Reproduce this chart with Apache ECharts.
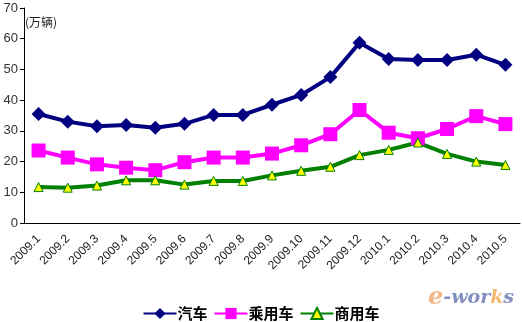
<!DOCTYPE html>
<html><head><meta charset="utf-8">
<script src="https://cdn.jsdelivr.net/npm/echarts@6/dist/echarts.min.js"></script>
<style>html,body{margin:0;padding:0;background:#fff}#c{width:522px;height:322px}</style>
</head><body><div id="c"></div>
<script>
const categories = ['2009.1','2009.2','2009.3','2009.4','2009.5','2009.6','2009.7','2009.8','2009.9','2009.10','2009.11','2009.12','2010.1','2010.2','2010.3','2010.4','2010.5'];
const autoValues = [35.5,33.0,31.5,31.9,31.0,32.3,35.2,35.2,38.5,41.7,47.5,58.7,53.4,53.1,53.1,54.8,51.5];
const passengerValues = [23.6,21.3,19.1,18.0,17.2,19.8,21.3,21.3,22.6,25.3,28.9,36.8,29.4,27.6,30.6,34.8,32.2];
const commercialValues = [11.7,11.5,12.2,13.9,13.9,12.5,13.7,13.7,15.5,17.0,18.3,22.1,23.8,26.2,22.5,20.0,18.9];
const seriesNames = ['汽车','乘用车','商用车'];
const yTicks = {min:0, max:70, interval:10};

const chart = echarts.init(document.getElementById('c'), null, {renderer:'canvas'});
chart.setOption({
  animation:false,
  backgroundColor:'#fff',
  grid:{left:24, right:2, top:8, bottom:99, containLabel:false},
  legend:{
    bottom:1, left:'center', itemGap:6, itemWidth:33, itemHeight:14, padding:0,
    textStyle:{fontSize:15, fontWeight:'bold', color:'#000', padding:[0,0,0,-4], fontFamily:'"Noto Sans CJK SC", sans-serif'},
    data:seriesNames
  },
  xAxis:{
    type:'category', data:categories, boundaryGap:true,
    axisLine:{lineStyle:{color:'#000', width:1}},
    axisTick:{inside:true, length:4, lineStyle:{color:'#000'}},
    axisLabel:{rotate:45, fontSize:12, color:'#222', margin:14, interval:0, fontFamily:'"Liberation Sans", Arial, sans-serif'},
    splitLine:{show:false}
  },
  yAxis:{
    type:'value', min:yTicks.min, max:yTicks.max, interval:yTicks.interval,
    axisLine:{show:true, lineStyle:{color:'#000', width:1}},
    axisTick:{show:true, length:4, lineStyle:{color:'#000'}},
    axisLabel:{fontSize:13, color:'#333', margin:6, fontFamily:'"Liberation Sans", Arial, sans-serif'},
    splitLine:{show:false}
  },
  graphic:[
    {type:'text', left:25, top:16, style:{text:'(万辆)', fontSize:12, fill:'#222', fontFamily:'"Noto Sans CJK SC", sans-serif'}},
    {type:'text', left:428, top:286, style:{
      text:'{e|e}{w|-wor}{k|k}{w|s}',
      rich:{
        e:{fontSize:24, fontStyle:'italic', fontWeight:'bold', fill:'#f0a060', fontFamily:'"DejaVu Serif", serif'},
        w:{fontSize:19, fontStyle:'italic', fontWeight:'bold', fill:'#5a6aa8', fontFamily:'"DejaVu Serif", serif'},
        k:{fontSize:19, fontStyle:'italic', fontWeight:'bold', fill:'#f0a040', fontFamily:'"DejaVu Serif", serif'}
      }, opacity:0.75}}
  ],
  series:[
    {name:seriesNames[0], type:'line', data:autoValues, symbol:'diamond', symbolSize:14,
      lineStyle:{color:'#000080', width:4}, itemStyle:{color:'#000080'}},
    {name:seriesNames[1], type:'line', data:passengerValues, symbol:'rect', symbolSize:14,
      lineStyle:{color:'#ff00ff', width:4}, itemStyle:{color:'#ff00ff'}},
    {name:seriesNames[2], type:'line', data:commercialValues, symbol:'triangle', symbolSize:9,
      lineStyle:{color:'#008000', width:4}, itemStyle:{color:'#ffff00', borderColor:'#008000', borderWidth:1}}
  ]
});
</script></body></html>
